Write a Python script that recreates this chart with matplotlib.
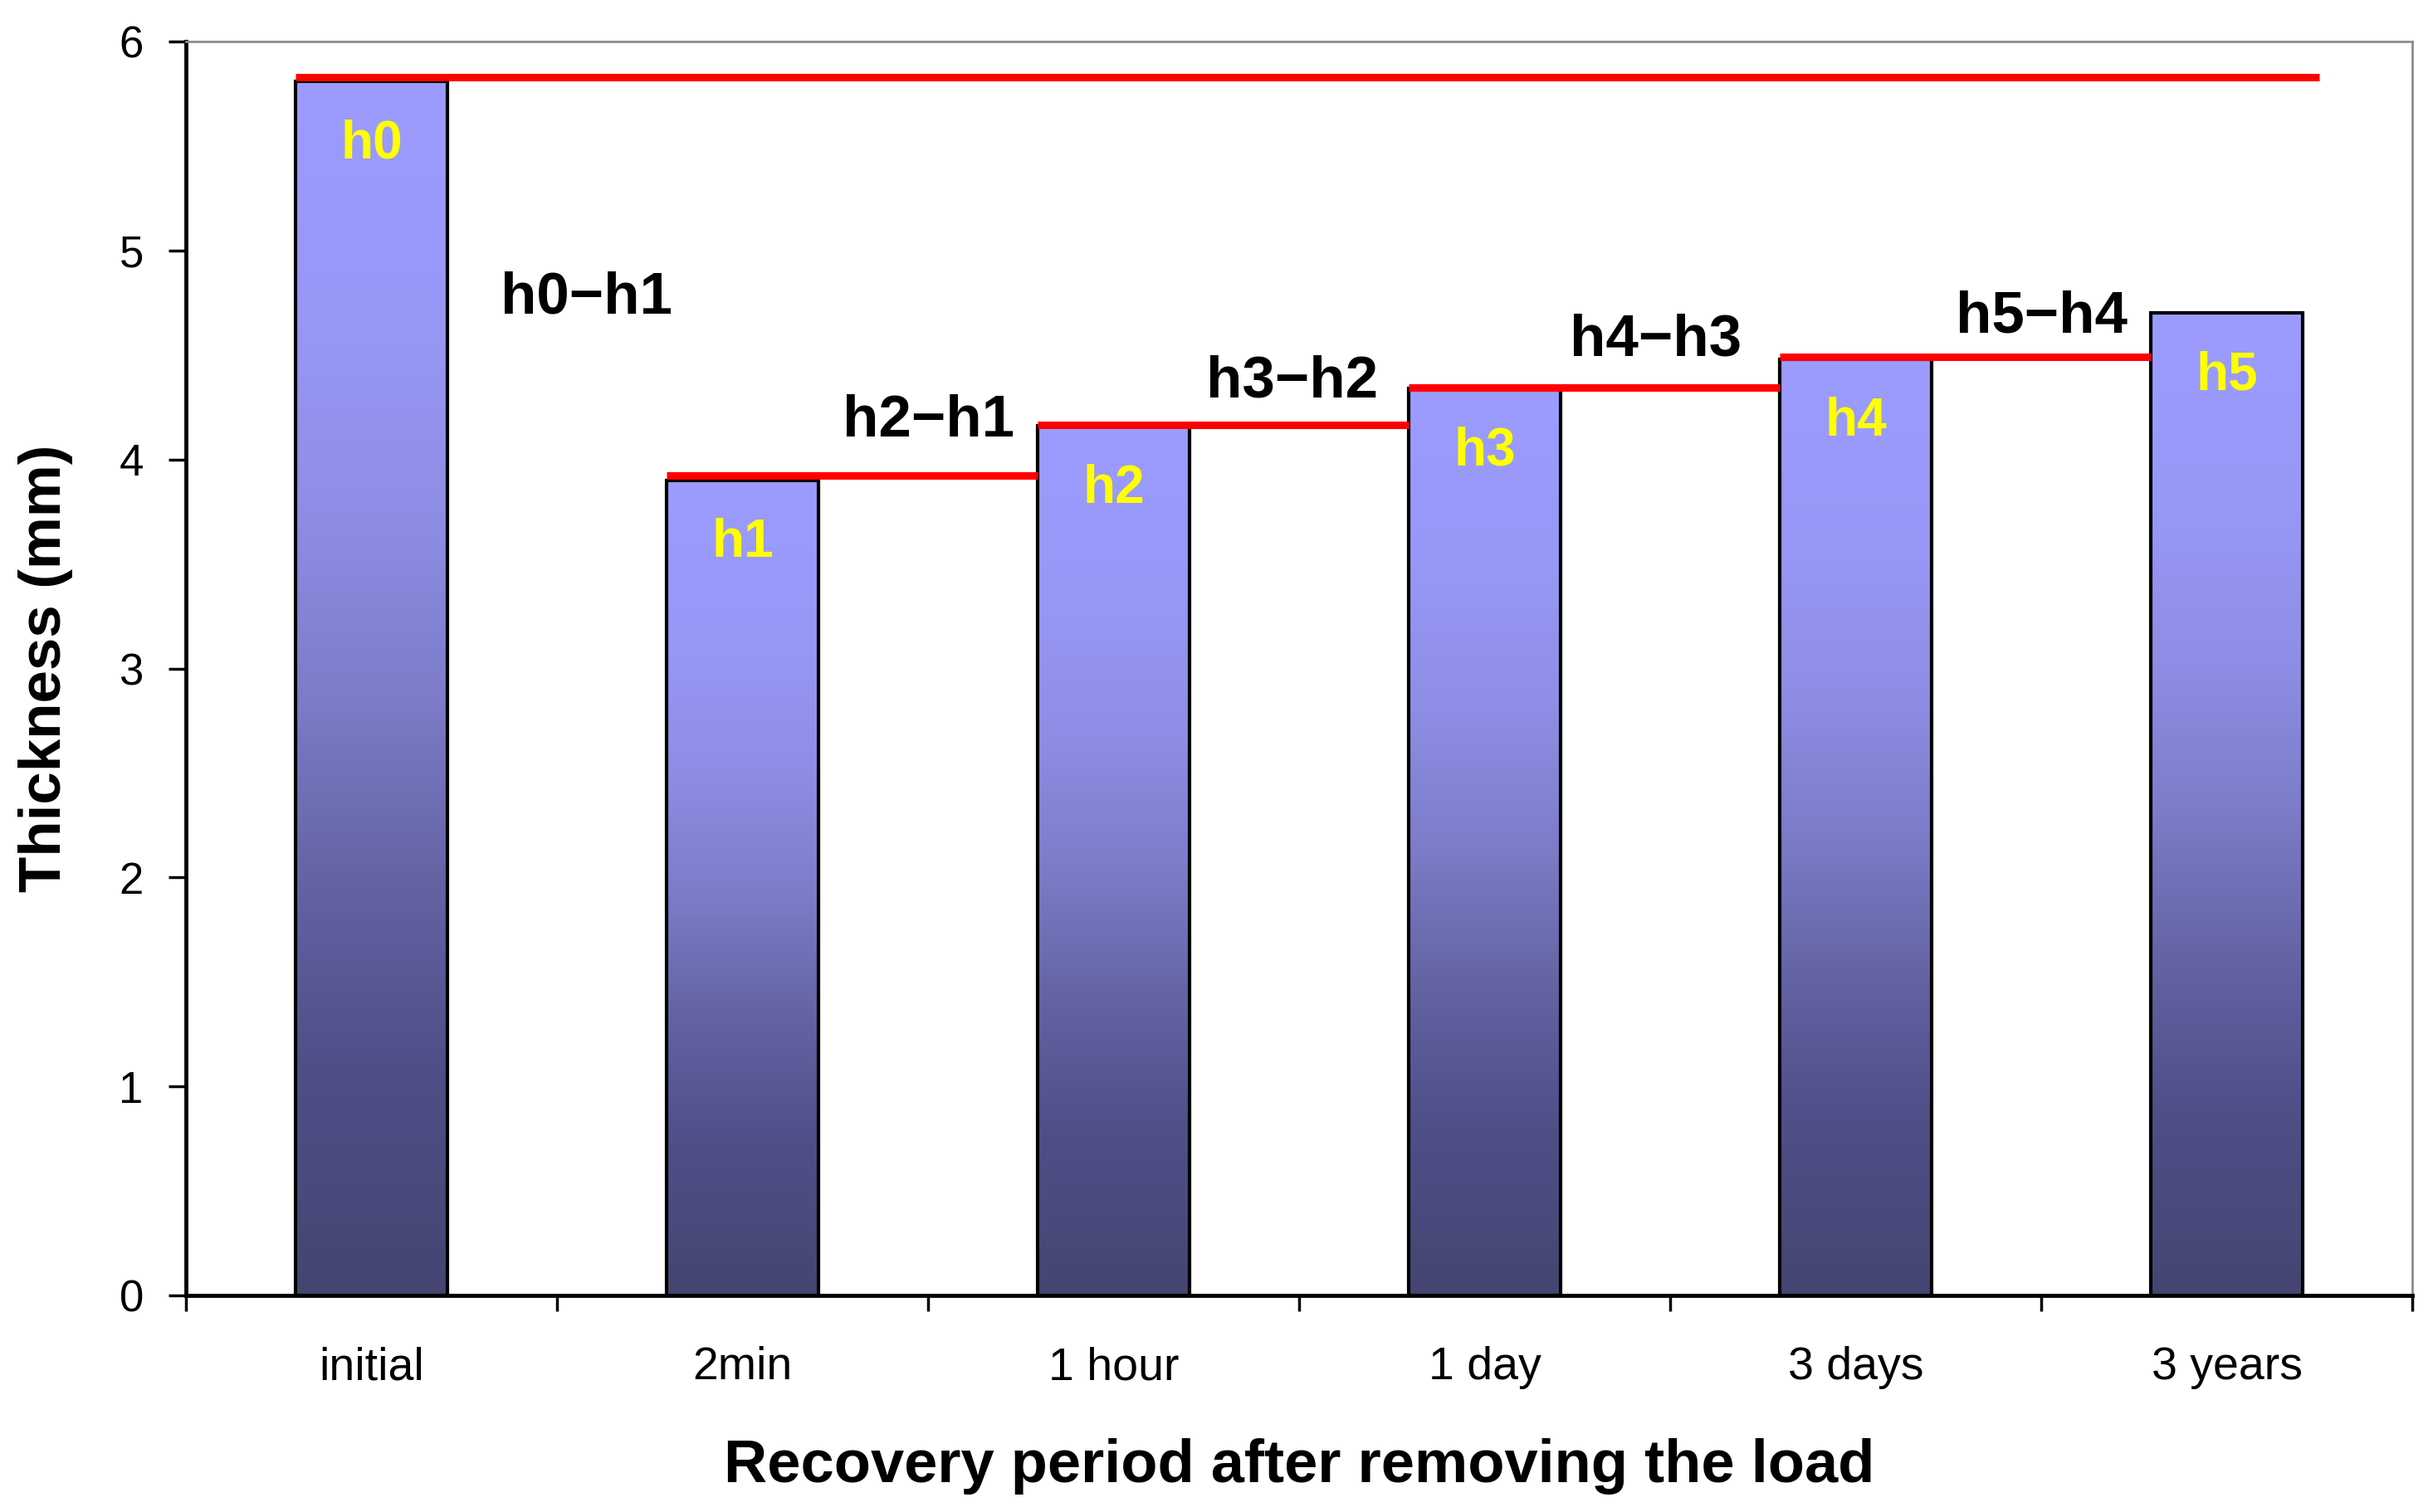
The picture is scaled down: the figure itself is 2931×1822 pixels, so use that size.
import numpy as np
import matplotlib

matplotlib.use("Agg")
import matplotlib.pyplot as plt
from matplotlib.colors import LinearSegmentedColormap

# data
periods = ["initial", "2min", "1 hour", "1 day", "3 days", "3 years"]
thickness = [5.81, 3.90, 4.16, 4.34, 4.48, 4.70]
bar_labels = ["h0", "h1", "h2", "h3", "h4", "h5"]
step_levels = [5.83, 3.925, 4.165, 4.345, 4.49]
diff_labels = ["h0\u2212h1", "h2\u2212h1", "h3\u2212h2", "h4\u2212h3", "h5\u2212h4"]
diff_x = [0.58, 1.50, 2.48, 3.46, 4.50]
diff_y = [4.77, 4.18, 4.37, 4.57, 4.68]

BAR_W = 0.41
FONT = ["Liberation Sans", "Arial", "DejaVu Sans"]

plt.rcParams["font.family"] = FONT
plt.rcParams["axes.unicode_minus"] = False

fig = plt.figure(figsize=(29.31, 18.22), dpi=100)
ax = fig.add_axes([0.0765, 0.1432, 0.915, 0.8294])

x = np.arange(len(periods))
ax.set_xlim(-0.5, len(periods) - 0.5)
ax.set_ylim(0, 6)

# gradient fill: light on top, dark at the bottom of each bar
cmap = LinearSegmentedColormap.from_list(
    "bar",
    [(0.0, "#454572"), (0.2, "#50508a"), (0.35, "#6565a6"),
     (0.5, "#7d7dcb"), (0.65, "#8e8ee6"), (0.8, "#9797f6"), (1.0, "#9c9cff")],
)
grad = np.linspace(0, 1, 256).reshape(-1, 1)
for xi, h in zip(x, thickness):
    ax.imshow(grad, cmap=cmap, origin="lower", aspect="auto",
              extent=(xi - BAR_W / 2, xi + BAR_W / 2, 0, h), zorder=2)
ax.bar(x, thickness, width=BAR_W, facecolor="none", edgecolor="black",
       linewidth=3, zorder=3)

# red step lines from each bar's left edge to the next bar's left edge
for i, lvl in enumerate(step_levels):
    x0 = x[i] - BAR_W / 2
    x1 = x[-1] + 0.25 if i == 0 else x[i + 1] - BAR_W / 2
    ax.plot([x0, x1], [lvl, lvl], color="#ff0000", lw=6.5,
            solid_capstyle="butt", zorder=4)

for xi, h, lab in zip(x, thickness, bar_labels):
    ax.text(xi, h - 0.3, lab, color="#ffff00", fontsize=46, fontweight="bold",
            ha="center", va="center", zorder=5)

for tx, ty, lab in zip(diff_x, diff_y, diff_labels):
    ax.text(tx, ty, lab, color="black", fontsize=51, fontweight="bold",
            ha="center", va="center", zorder=5)

# axes styling
ax.set_xticks(x)
ax.set_xticklabels(periods, fontsize=40)
ax.set_xticks(np.arange(-0.5, len(periods) + 0.5), minor=True)
ax.tick_params(axis="x", which="major", length=0, pad=44)
ax.tick_params(axis="x", which="minor", length=14, width=2.5, direction="out")
ax.set_yticks(range(7))
ax.tick_params(axis="y", labelsize=38, length=15, width=2.5, pad=22)

for s in ("left", "bottom"):
    ax.spines[s].set_linewidth(3.5)
    ax.spines[s].set_color("black")
for s in ("top", "right"):
    ax.spines[s].set_linewidth(2)
    ax.spines[s].set_color("#8c8c8c")

ax.set_xlabel("Recovery period after removing the load", fontsize=52,
              fontweight="bold")
ax.set_ylabel("Thickness (mm)", fontsize=51, fontweight="bold")
ax.xaxis.set_label_coords(0.5, -0.136)
ax.xaxis.label.set_va("center")
ax.yaxis.set_label_coords(-0.063, 0.5)
ax.yaxis.label.set_va("center")

fig.savefig("out.png", dpi=100, facecolor="white")
